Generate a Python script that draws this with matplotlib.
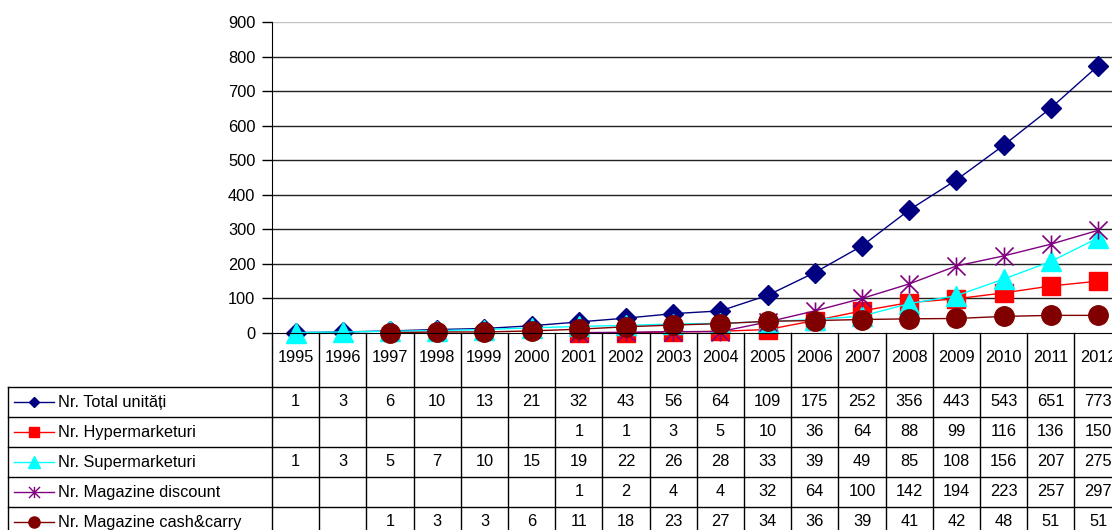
import numpy as np
import matplotlib.pyplot as plt
from matplotlib.path import Path
from matplotlib.lines import Line2D
from matplotlib.transforms import blended_transform_factory

plt.rcParams['font.family'] = ['Liberation Sans', 'DejaVu Sans']

years = [str(y) for y in range(1995, 2013)]
nan = np.nan

total = [1, 3, 6, 10, 13, 21, 32, 43, 56, 64, 109, 175, 252, 356, 443, 543, 651, 773]
hyper = [nan, nan, nan, nan, nan, nan, 1, 1, 3, 5, 10, 36, 64, 88, 99, 116, 136, 150]
super_ = [1, 3, 5, 7, 10, 15, 19, 22, 26, 28, 33, 39, 49, 85, 108, 156, 207, 275]
discount = [nan, nan, nan, nan, nan, nan, 1, 2, 4, 4, 32, 64, 100, 142, 194, 223, 257, 297]
cash = [nan, nan, 1, 3, 3, 6, 11, 18, 23, 27, 34, 36, 39, 41, 42, 48, 51, 51]

labels = ['Nr. Total unități', 'Nr. Hypermarketuri', 'Nr. Supermarketuri',
          'Nr. Magazine discount', 'Nr. Magazine cash&carry']
series = [total, hyper, super_, discount, cash]

# excel-like star marker: X plus vertical bar
star = Path([(-1, -1), (1, 1), (-1, 1), (1, -1), (0, -1), (0, 1)],
            [Path.MOVETO, Path.LINETO, Path.MOVETO, Path.LINETO, Path.MOVETO, Path.LINETO])

styles = [
    dict(color='#000080', marker='D', ms=10),
    dict(color='#ff0000', marker='s', ms=13),
    dict(color='#00ffff', marker='^', ms=14),
    dict(color='#800080', marker=star, ms=13, mew=1.2),
    dict(color='#800000', marker='o', ms=14),
]
key_ms = [5.5, 7, 8, 8, 8]
fs = 11.8

W, H = 1112, 530
fig = plt.figure(figsize=(W / 100, H / 100), dpi=100)

left_px, top_px, bottom_px = 272, 22, 333
col_w = 47.2
n = len(years)
ax = fig.add_axes([left_px / W, 1 - bottom_px / H, n * col_w / W, (bottom_px - top_px) / H])

x = np.arange(n)
for s, st in zip(series, styles):
    ax.plot(x, s, lw=1, mec=st['color'], mfc=st['color'], clip_on=False, **st)

ax.set_xlim(-0.5, n - 0.5)
ax.set_ylim(0, 900)
ax.set_yticks(range(0, 901, 100))
ax.tick_params(axis='y', direction='out', length=7, width=1, labelsize=fs, pad=5)
ax.set_xticks([])
for yv in range(100, 900, 100):
    ax.axhline(yv, color='#222222', lw=1, zorder=0)
ax.axhline(900, color='#c0c0c0', lw=1, zorder=0)
for sp in ['top', 'right']:
    ax.spines[sp].set_visible(False)
ax.spines['left'].set_color('#000000')
ax.spines['bottom'].set_color('#000000')

# data table under the chart
fy = lambda py: 1 - py / H
fx = lambda px: px / W
tr = blended_transform_factory(ax.transData, fig.transFigure)

for k in range(n + 1):
    fig.add_artist(Line2D([k - 0.5, k - 0.5], [fy(bottom_px), fy(H + 5)],
                          transform=tr, color='black', lw=1))
row_lines = [387, 417, 447, 477, 507]
for py in row_lines:
    fig.add_artist(Line2D([fx(8), 1.0], [fy(py), fy(py)], color='black', lw=1))
fig.add_artist(Line2D([fx(8), fx(8)], [fy(387), fy(H + 5)], color='black', lw=1))

for i, yr in enumerate(years):
    fig.text(i, fy(357), yr, transform=tr, ha='center', va='center', fontsize=fs)

for r, (lab, s, st, kms) in enumerate(zip(labels, series, styles, key_ms)):
    cy = fy(402 + 30 * r)
    fig.add_artist(Line2D([fx(14), fx(54)], [cy, cy], color=st['color'], lw=1))
    fig.add_artist(Line2D([fx(34)], [cy], color=st['color'], marker=st['marker'],
                          ms=kms, mfc=st['color'], mec=st['color'], mew=1))
    fig.text(fx(58), cy, lab, ha='left', va='center', fontsize=fs)
    for i, v in enumerate(s):
        if not np.isnan(v):
            fig.text(i, cy, str(int(v)), transform=tr, ha='center', va='center', fontsize=fs)

fig.savefig('out.png', dpi=100)
